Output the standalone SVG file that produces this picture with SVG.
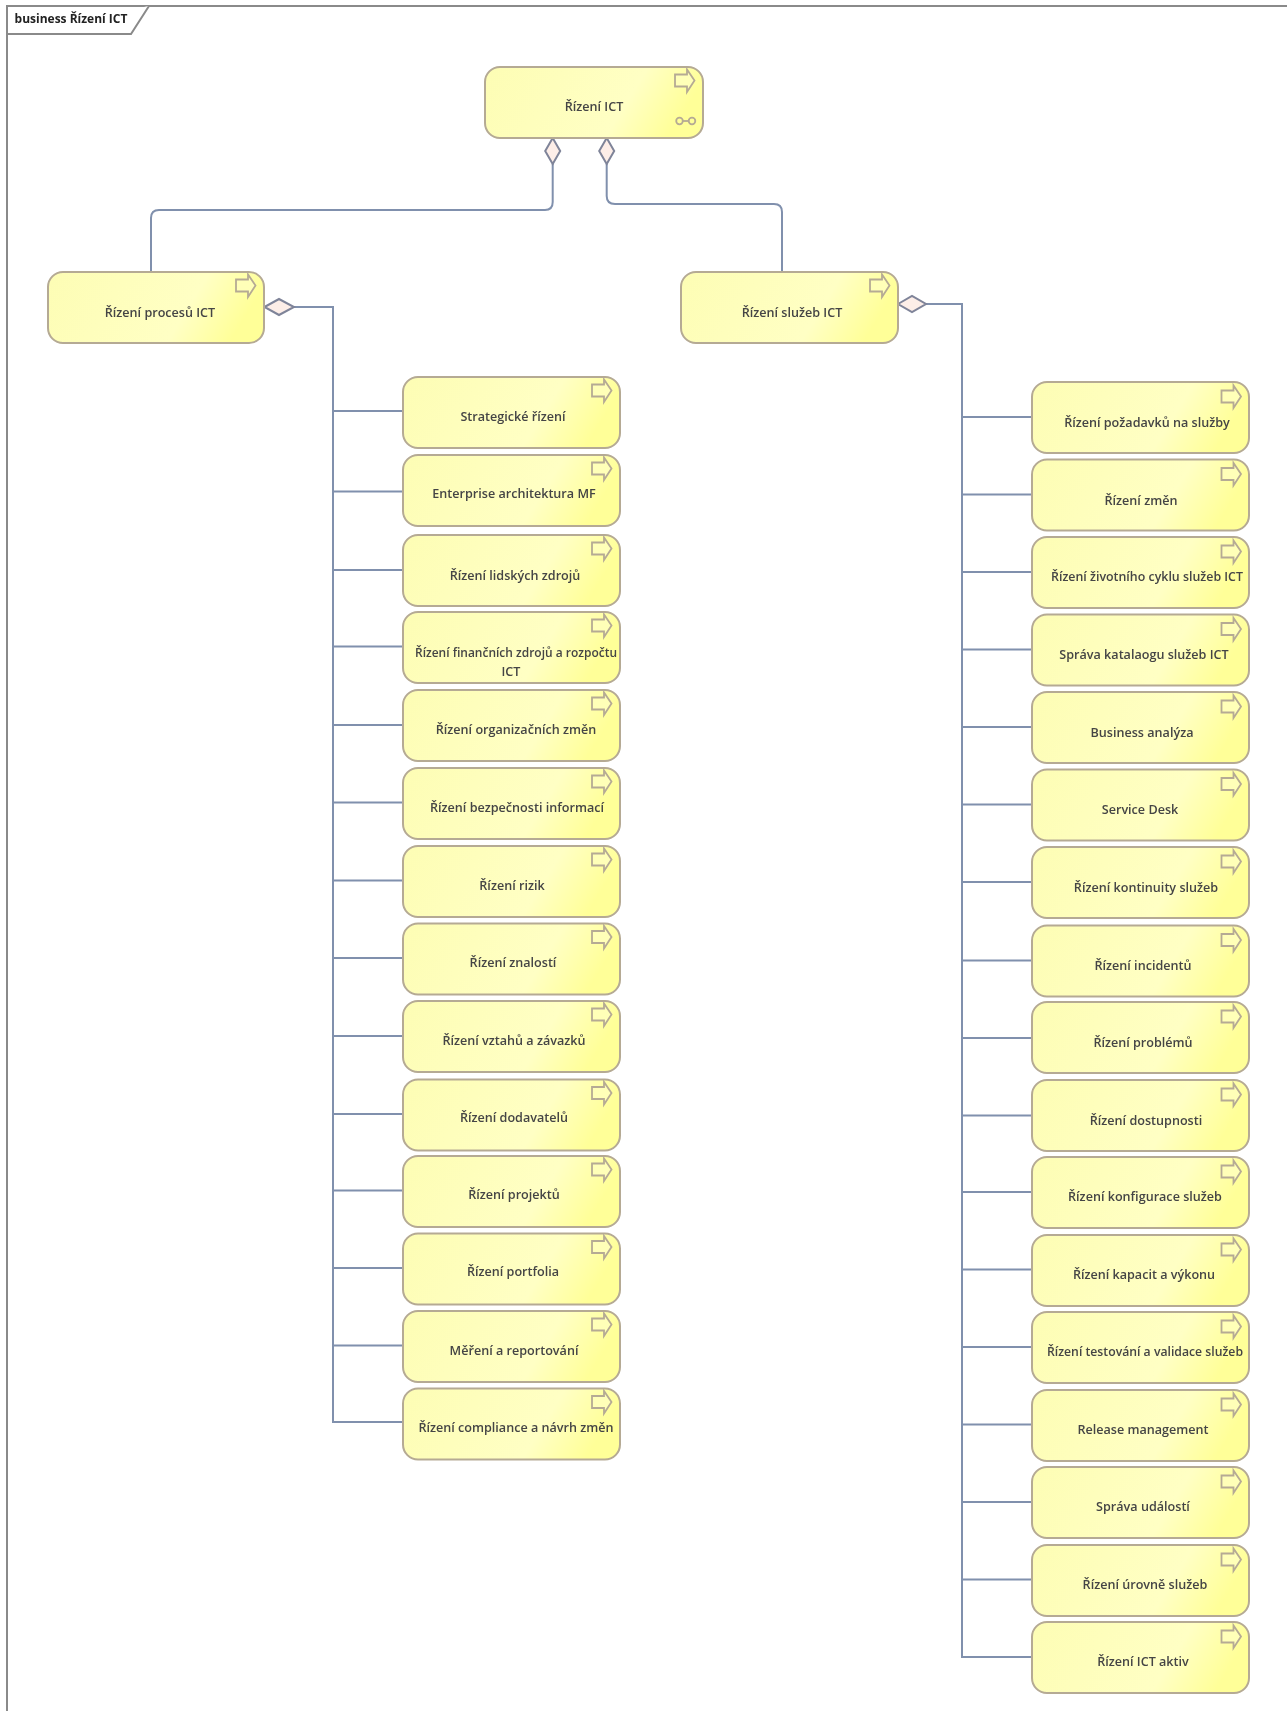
<svg xmlns="http://www.w3.org/2000/svg" width="1287" height="1711" viewBox="0 0 1287 1711">
<style>
text{font-family:"Open Sans","Liberation Sans",sans-serif;font-size:12.600px;font-weight:600;fill:#454545;text-anchor:middle}
.n{fill:url(#g);stroke:#b5aa94;stroke-width:2}
.i{fill:#ffffb8;stroke:#b5aa94;stroke-width:1.800}
.c{fill:none;stroke:#8090ad;stroke-width:2}
.d{fill:#fdeee8;stroke:#7f8499;stroke-width:2}
.f{fill:none;stroke:#8a8a8a;stroke-width:2}
</style>
<defs>
<linearGradient id="g" x1="0" y1="0" x2="1" y2="0.2"><stop offset="0" stop-color="#fdfdb4"/><stop offset="0.72" stop-color="#ffffc4"/><stop offset="1" stop-color="#ffff98"/></linearGradient>
<g id="p"><path class="i" d="M0 7.500H12V2.500L19.500 13.500L12 25V19.500H0Z"/></g>
<filter id="b" x="0" y="0" width="100%" height="100%"><feGaussianBlur stdDeviation="0.5"/></filter>
</defs>
<g filter="url(#b)">
<rect width="1287" height="1711" fill="#fff"/>
<g id="frame"><path class="f" d="M7 1711V6H1287"/><path d="M7 34H131L149 6" fill="#fff" stroke="#8a8a8a" stroke-width="2"/><text x="71" y="23" style="fill:#222;font-weight:700;font-size:12px">business Řízení ICT</text></g>
<g id="connectors">
<path class="c" d="M552.700 164V202Q552.700 210 545 210H159Q151 210 151 218V272"/>
<path class="c" d="M606.700 164V196Q606.700 204 615 204H774Q782 204 782 212V272"/>
<path class="c" d="M280 307H333V1422H403M333 411H403M333 491.500H403M333 570H403M333 646.500H403M333 725H403M333 802.500H403M333 880.500H403M333 958H403M333 1036H403M333 1114H403M333 1190.500H403M333 1268H403M333 1345.500H403"/>
<path class="c" d="M926 304H962V1657H1032M962 417H1032M962 494.500H1032M962 572H1032M962 649.500H1032M962 727H1032M962 804.500H1032M962 882H1032M962 960.500H1032M962 1038H1032M962 1115.500H1032M962 1192H1032M962 1269.500H1032M962 1347H1032M962 1424.500H1032M962 1502H1032M962 1579.500H1032"/>
<path class="d" d="M552.700 138L560.200 151L552.700 164L545.200 151Z"/>
<path class="d" d="M606.700 138L614.200 151L606.700 164L599.200 151Z"/>
<path class="d" d="M264.500 307L279 299L294 307L279 315Z"/>
<path class="d" d="M898 304L912 296L926 304L912 312Z"/>
</g>
<g id="n-ict"><rect class="n" x="485" y="67" width="218" height="71" rx="15"/><use href="#p" x="675" y="67"/><g class="i" style="fill:none"><circle cx="679.500" cy="121" r="3.300"/><circle cx="692" cy="121" r="3.300"/><path d="M683 121H689"/></g><text x="594" y="111">Řízení ICT</text></g>
<g id="n-procesy"><rect class="n" x="48" y="272" width="216" height="71" rx="15"/><use href="#p" x="236" y="272"/><text x="160" y="317">Řízení procesů ICT</text></g>
<g id="n-sluzby"><rect class="n" x="681" y="272" width="217" height="71" rx="15"/><use href="#p" x="870" y="272"/><text x="792" y="317">Řízení služeb ICT</text></g>

<g id="l1"><rect class="n" x="403" y="377" width="217" height="71" rx="15"/><use href="#p" x="592" y="377"/><text x="513" y="420.500">Strategické řízení</text></g>
<g id="l2"><rect class="n" x="403" y="455" width="217" height="71" rx="15"/><use href="#p" x="592" y="455"/><text x="514" y="498">Enterprise architektura MF</text></g>
<g id="l3"><rect class="n" x="403" y="535" width="217" height="71" rx="15"/><use href="#p" x="592" y="535"/><text x="515" y="580">Řízení lidských zdrojů</text></g>
<g id="l4"><rect class="n" x="403" y="612" width="217" height="71" rx="15"/><use href="#p" x="592" y="612"/><text x="516" y="657" textLength="202" lengthAdjust="spacingAndGlyphs">Řízení finančních zdrojů a rozpočtu</text><text x="511" y="676">ICT</text></g>
<g id="l5"><rect class="n" x="403" y="690" width="217" height="71" rx="15"/><use href="#p" x="592" y="690"/><text x="516" y="734">Řízení organizačních změn</text></g>
<g id="l6"><rect class="n" x="403" y="768" width="217" height="71" rx="15"/><use href="#p" x="592" y="768"/><text x="517" y="812">Řízení bezpečnosti informací</text></g>
<g id="l7"><rect class="n" x="403" y="846" width="217" height="71" rx="15"/><use href="#p" x="592" y="846"/><text x="512" y="890">Řízení rizik</text></g>
<g id="l8"><rect class="n" x="403" y="923.500" width="217" height="71" rx="15"/><use href="#p" x="592" y="923.500"/><text x="513" y="967">Řízení znalostí</text></g>
<g id="l9"><rect class="n" x="403" y="1001" width="217" height="71" rx="15"/><use href="#p" x="592" y="1001"/><text x="514" y="1045">Řízení vztahů a závazků</text></g>
<g id="l10"><rect class="n" x="403" y="1079.500" width="217" height="71" rx="15"/><use href="#p" x="592" y="1079.500"/><text x="514" y="1122">Řízení dodavatelů</text></g>
<g id="l11"><rect class="n" x="403" y="1156" width="217" height="71" rx="15"/><use href="#p" x="592" y="1156"/><text x="514" y="1199">Řízení projektů</text></g>
<g id="l12"><rect class="n" x="403" y="1233.500" width="217" height="71" rx="15"/><use href="#p" x="592" y="1233.500"/><text x="513" y="1276">Řízení portfolia</text></g>
<g id="l13"><rect class="n" x="403" y="1311" width="217" height="71" rx="15"/><use href="#p" x="592" y="1311"/><text x="514" y="1355">Měření a reportování</text></g>
<g id="l14"><rect class="n" x="403" y="1388.500" width="217" height="71" rx="15"/><use href="#p" x="592" y="1388.500"/><text x="516" y="1432">Řízení compliance a návrh změn</text></g>

<g id="r1"><rect class="n" x="1032" y="382" width="217" height="71" rx="15"/><use href="#p" x="1221.500" y="383"/><text x="1147" y="427">Řízení požadavků na služby</text></g>
<g id="r2"><rect class="n" x="1032" y="459.500" width="217" height="71" rx="15"/><use href="#p" x="1221.500" y="460.500"/><text x="1141" y="504.500">Řízení změn</text></g>
<g id="r3"><rect class="n" x="1032" y="537" width="217" height="71" rx="15"/><use href="#p" x="1221.500" y="538"/><text x="1147" y="581" textLength="192" lengthAdjust="spacingAndGlyphs">Řízení životního cyklu služeb ICT</text></g>
<g id="r4"><rect class="n" x="1032" y="614.500" width="217" height="71" rx="15"/><use href="#p" x="1221.500" y="615.500"/><text x="1144" y="658.500">Správa katalaogu služeb ICT</text></g>
<g id="r5"><rect class="n" x="1032" y="692" width="217" height="71" rx="15"/><use href="#p" x="1221.500" y="693"/><text x="1142" y="737">Business analýza</text></g>
<g id="r6"><rect class="n" x="1032" y="769.500" width="217" height="71" rx="15"/><use href="#p" x="1221.500" y="770.500"/><text x="1140" y="813.500">Service Desk</text></g>
<g id="r7"><rect class="n" x="1032" y="847" width="217" height="71" rx="15"/><use href="#p" x="1221.500" y="848"/><text x="1146" y="892">Řízení kontinuity služeb</text></g>
<g id="r8"><rect class="n" x="1032" y="925.500" width="217" height="71" rx="15"/><use href="#p" x="1221.500" y="926.500"/><text x="1143" y="969.500">Řízení incidentů</text></g>
<g id="r9"><rect class="n" x="1032" y="1002" width="217" height="71" rx="15"/><use href="#p" x="1221.500" y="1003"/><text x="1143" y="1047">Řízení problémů</text></g>
<g id="r10"><rect class="n" x="1032" y="1080" width="217" height="71" rx="15"/><use href="#p" x="1221.500" y="1081"/><text x="1146" y="1124.500">Řízení dostupnosti</text></g>
<g id="r11"><rect class="n" x="1032" y="1157" width="217" height="71" rx="15"/><use href="#p" x="1221.500" y="1158"/><text x="1145" y="1201">Řízení konfigurace služeb</text></g>
<g id="r12"><rect class="n" x="1032" y="1235" width="217" height="71" rx="15"/><use href="#p" x="1221.500" y="1236"/><text x="1144" y="1278.500">Řízení kapacit a výkonu</text></g>
<g id="r13"><rect class="n" x="1032" y="1312" width="217" height="71" rx="15"/><use href="#p" x="1221.500" y="1313"/><text x="1145" y="1356" textLength="196" lengthAdjust="spacingAndGlyphs">Řízení testování a validace služeb</text></g>
<g id="r14"><rect class="n" x="1032" y="1390" width="217" height="71" rx="15"/><use href="#p" x="1221.500" y="1391"/><text x="1143" y="1433.500">Release management</text></g>
<g id="r15"><rect class="n" x="1032" y="1467" width="217" height="71" rx="15"/><use href="#p" x="1221.500" y="1468"/><text x="1143" y="1511">Správa událostí</text></g>
<g id="r16"><rect class="n" x="1032" y="1545" width="217" height="71" rx="15"/><use href="#p" x="1221.500" y="1546"/><text x="1145" y="1588.500">Řízení úrovně služeb</text></g>
<g id="r17"><rect class="n" x="1032" y="1622" width="217" height="71" rx="15"/><use href="#p" x="1221.500" y="1623"/><text x="1143" y="1666">Řízení ICT aktiv</text></g>
</g>
</svg>
